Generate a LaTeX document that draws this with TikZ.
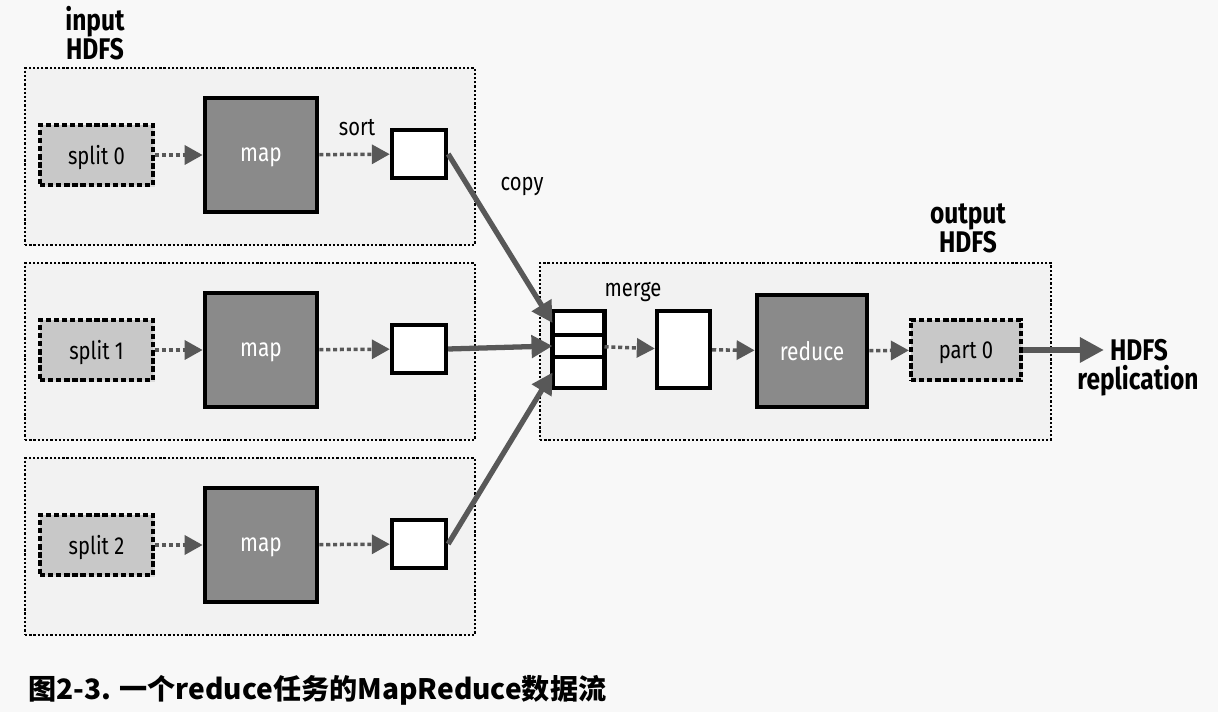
\documentclass[tikz,border=0pt]{standalone}
\usepackage{fontspec}
\setmainfont[FakeStretch=0.82]{Fira Sans}
\newfontfamily\cjk{Noto Sans CJK SC}
\usetikzlibrary{positioning,arrows.meta,shadows}

\definecolor{bggray}{RGB}{248,248,248}
\definecolor{panelgray}{RGB}{242,242,242}
\definecolor{splitgray}{RGB}{200,200,200}
\definecolor{mapgray}{RGB}{138,138,138}
\definecolor{arrowgray}{RGB}{88,88,88}

\tikzstyle{panel} = [style={draw, fill=panelgray, line width=1.3pt, dash pattern=on 1.3pt off 1.1pt}]
\tikzstyle{split} = [style={draw, fill=splitgray, line width=2.4pt, dash pattern=on 3pt off 1.6pt, minimum width=2.26cm, minimum height=1.2cm, text depth=0pt, font=\fontsize{14}{16}\selectfont, drop shadow={opacity=0.2, shadow xshift=1pt, shadow yshift=-1pt}}]
\tikzstyle{mapbox} = [style={draw, fill=mapgray, line width=2.7pt, minimum width=2.24cm, minimum height=2.28cm, text=white, text depth=0pt, font=\fontsize{14.5}{16}\selectfont, drop shadow={opacity=0.3, shadow xshift=1.2pt, shadow yshift=-1.2pt}}]
\tikzstyle{buf} = [style={draw, fill=white, line width=2.5pt, minimum width=1.08cm, minimum height=0.96cm, drop shadow={opacity=0.3, shadow xshift=1.1pt, shadow yshift=-1.1pt}}]
\tikzstyle{slot} = [style={draw, fill=white, line width=2.5pt, minimum width=1.04cm, outer sep=0pt}]
\tikzstyle{lbl} = [style={font=\fontsize{14}{16}\selectfont}]
\tikzstyle{title} = [style={align=center, font=\bfseries\fontsize{17}{16.5}\selectfont}]
\tikzstyle{dotarrow} = [style={draw=arrowgray, line width=2pt, dash pattern=on 2.3pt off 1.6pt, -{Triangle[length=0.36cm, width=0.38cm, fill=arrowgray]}}]
\tikzstyle{copyarrow} = [style={draw=arrowgray, line width=3pt, -{Triangle[length=0.42cm, width=0.44cm]}}]

\begin{document}
\begin{tikzpicture}[x=0.02cm,y=-0.02cm]
\fill[bggray] (0,0) rectangle (1218,712);
\useasboundingbox (0,0) rectangle (1218,712);

%% map side
\foreach \i in {0,1,2}
  {
  \node [panel, minimum width=9cm, minimum height=3.54cm] (in\i) at (250,156.5+195*\i) {};
  \node [split] (s\i) at (96.5,155+195*\i) {split \i};
  \node [mapbox] (map\i) at (261,155+195*\i) {map};
  \node [buf] (b\i) at (419,154+195*\i) {};
  \draw [dotarrow] (s\i) -- (map\i);
  \draw [dotarrow] (map\i) -- (b\i);
  }

\node [title] (inhdfs) at (95,33) {input\\HDFS};
\node [lbl] (sort) at (357,128) {sort};
\node [lbl] (copy) at (522,186) {copy};

%% reduce side
\node [panel, minimum width=10.22cm, minimum height=3.54cm] (out) at (795.5,351.5) {};
\node [title] (outhdfs) at (968,228) {output\\HDFS};

\node [slot, minimum height=0.48cm] (m1) at (578.5,323) {};
\node [slot, minimum height=0.44cm, below=0pt of m1] (m2) {};
\node [slot, minimum height=0.62cm, below=0pt of m2] (m3) {};
\node [lbl] (merge) at (633,292) {merge};

\node [buf, minimum width=1.06cm, minimum height=1.54cm] (mg) at (683.5,349.5) {};
\node [mapbox, minimum width=2.2cm, minimum height=2.24cm] (red) at (812,351) {reduce};
\node [split, minimum width=2.2cm] (part) at (966,350) {part 0};

\node [title] (hd) at (1139,350) {HDFS};
\node [title] (rep) at (1138,381) {replication};

%% copy
\draw [copyarrow] (b0.east) -- (m1.west);
\draw [copyarrow] (b1.east) -- (m2.west);
\draw [copyarrow] (b2.east) -- (m3.west);

\draw [dotarrow] (m2) -- (mg);
\draw [dotarrow] (mg) -- (red);
\draw [dotarrow] (red) -- (part);
\draw [draw=arrowgray, line width=3.4pt, -{Triangle[length=0.48cm, width=0.48cm]}] (part) -- (hd);

%% caption
\node [anchor=west] (cap) at (22,690) {\cjk\bfseries\fontsize{16}{20}\selectfont 图2-3. 一个reduce任务的MapReduce数据流};

\end{tikzpicture}
\end{document}
